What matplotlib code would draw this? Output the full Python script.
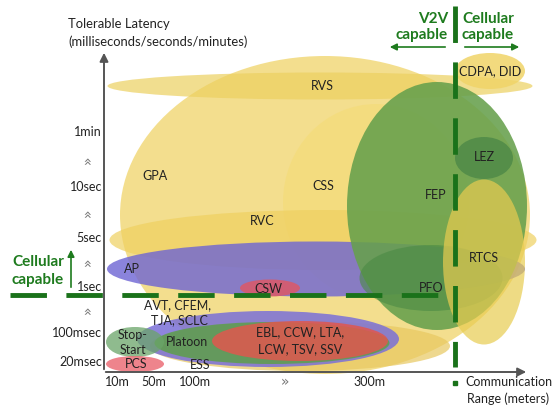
import matplotlib
matplotlib.use("Agg")
import matplotlib.pyplot as plt
from matplotlib.patches import Ellipse, FancyArrowPatch

plt.rcParams['font.family'] = ['Lato', 'DejaVu Sans']

# ---- data: application regions (range extent in px-space, latency extent in px-space)
names   = ["GPA", "RVS", "CSS", "RVC", "ESS", "AP", "FEP", "CDPA", "PFO", "RTCS", "LEZ",
           "CSW", "AVT", "Platoon", "EBL", "StopStart", "PCS"]
cx      = [325, 320, 376, 323, 300, 316, 437, 490, 431, 484, 484, 270, 268, 272, 300, 135, 135]
cy      = [215,  86, 202, 240, 346, 269, 206,  71, 278, 262, 158, 288, 339, 343, 341, 342, 364]
wd      = [410, 425, 186, 427, 300, 418, 180,  70, 143,  82,  58,  60, 262, 235, 176,  58,  58]
ht      = [318,  27, 196,  60,  50,  55, 248,  36,  66, 165,  42,  17,  56,  42,  40,  30,  16]
fills   = ["#f0d468", "#ecd060", "#f4dc78", "#efd060", "#e8c860", "#6d64d4", "#66a04c",
           "#f0d468", "#4a8a44", "#e8cc50", "#4f8a48", "#dc5866", "#7a70d8", "#5e9e4a",
           "#e0574e", "#6aa468", "#ec6e78"]
alphas  = [0.75, 0.7, 0.65, 0.7, 0.7, 0.8, 0.88, 0.85, 0.6, 0.7, 0.85, 0.85, 0.85, 0.85, 0.85, 0.75, 0.85]

labels  = [("RVS", 322, 86), ("GPA", 155, 176), ("CSS", 323, 186), ("RVC", 262, 221),
           ("FEP", 436, 195), ("LEZ", 484, 157), ("RTCS", 484, 258), ("AP", 132, 269),
           ("CSW", 268, 289), ("PFO", 431, 288), ("CDPA, DID", 490, 71),
           ("AVT, CFEM,", 178, 305), ("TJA, SCLC", 179, 320), ("Stop-", 133, 335),
           ("Start", 133, 350), ("Platoon", 187, 342), ("EBL, CCW, LTA,", 300, 332),
           ("LCW, TSV, SSV", 300, 349), ("PCS", 136, 364), ("ESS", 200, 365)]

ytick_labels = ["1min", "10sec", "5sec", "1sec", "100msec", "20msec"]
ytick_pos    = [132, 187, 238, 287, 333, 362]
ychev_pos    = [160, 213, 262, 310]
xtick_labels = ["10m", "50m", "100m", "300m"]
xtick_pos    = [117, 154, 195, 370]
xchev_pos    = [285]

W, H = 553, 408
fig = plt.figure(figsize=(W / 100, H / 100), dpi=100)
ax = fig.add_axes([0, 0, 1, 1])
ax.set_xlim(0, W)
ax.set_ylim(H, 0)
ax.axis("off")

for n, x, y, w, h, c, a in zip(names, cx, cy, wd, ht, fills, alphas):
    ax.add_patch(Ellipse((x, y), w, h, facecolor=c, edgecolor="none", alpha=a, zorder=2))

FS = 9
for t, x, y in labels:
    ax.text(x, y, t, ha="center", va="center", fontsize=FS, color="#222222", zorder=5)

# axes
axc = "#555555"
ax.add_patch(FancyArrowPatch((104, 372), (104, 50), arrowstyle="-|>,head_length=5,head_width=2.5",
                             color=axc, lw=1.4, zorder=6))
ax.add_patch(FancyArrowPatch((103, 372), (529, 372), arrowstyle="-|>,head_length=5,head_width=2.5",
                             color=axc, lw=1.4, zorder=6))

ax.text(68, 24, "Tolerable Latency", ha="left", va="center", fontsize=9.4, color="#222222")
ax.text(68, 42, "(milliseconds/seconds/minutes)", ha="left", va="center", fontsize=9.4, color="#222222")

for t, y in zip(ytick_labels, ytick_pos):
    ax.text(102, y, t, ha="right", va="center", fontsize=FS, color="#222222", zorder=6)
for y in ychev_pos:
    ax.text(88, y, "»", ha="center", va="center", fontsize=10, rotation=90, color="#777777",
            family="DejaVu Sans")
for t, x in zip(xtick_labels, xtick_pos):
    ax.text(x, 382, t, ha="center", va="center", fontsize=FS, color="#222222")
for x in xchev_pos:
    ax.text(x, 382, "»", ha="center", va="center", fontsize=10, color="#777777", family="DejaVu Sans")

ax.text(465, 382, "Communication", ha="left", va="center", fontsize=FS, color="#222222")
ax.text(467, 399, "Range (meters)", ha="left", va="center", fontsize=FS, color="#222222")

# boundary dashed lines
green = "#1a721a"
ax.plot([10, 455], [295, 295], color=green, lw=3.5, dashes=(7.5, 4), zorder=7, solid_capstyle="butt")
ax.plot([455, 455], [6, 367], color=green, lw=3.5, dashes=(7.5, 4), zorder=7, solid_capstyle="butt")
ax.plot([455], [383], marker="s", ms=3, color=green, zorder=7)

tg = "#1e7b1e"
BF = 11
ax.text(448, 19, "V2V", ha="right", va="center", fontsize=BF, fontweight="bold", color=tg)
ax.text(448, 35, "capable", ha="right", va="center", fontsize=BF, fontweight="bold", color=tg)
ax.text(462, 19, "Cellular", ha="left", va="center", fontsize=BF, fontweight="bold", color=tg)
ax.text(462, 35, "capable", ha="left", va="center", fontsize=BF, fontweight="bold", color=tg)
ax.add_patch(FancyArrowPatch((448, 47), (387, 47), arrowstyle="-|>,head_length=4,head_width=2",
                             color=tg, lw=1.2, zorder=7))
ax.add_patch(FancyArrowPatch((462, 47), (522, 47), arrowstyle="-|>,head_length=4,head_width=2",
                             color=tg, lw=1.2, zorder=7))
ax.text(12, 262, "Cellular", ha="left", va="center", fontsize=BF, fontweight="bold", color=tg)
ax.text(12, 280, "capable", ha="left", va="center", fontsize=BF, fontweight="bold", color=tg)
ax.add_patch(FancyArrowPatch((71, 290), (71, 247), arrowstyle="-|>,head_length=4,head_width=2",
                             color=tg, lw=1.2, zorder=7))

fig.savefig("out.png", dpi=100)
